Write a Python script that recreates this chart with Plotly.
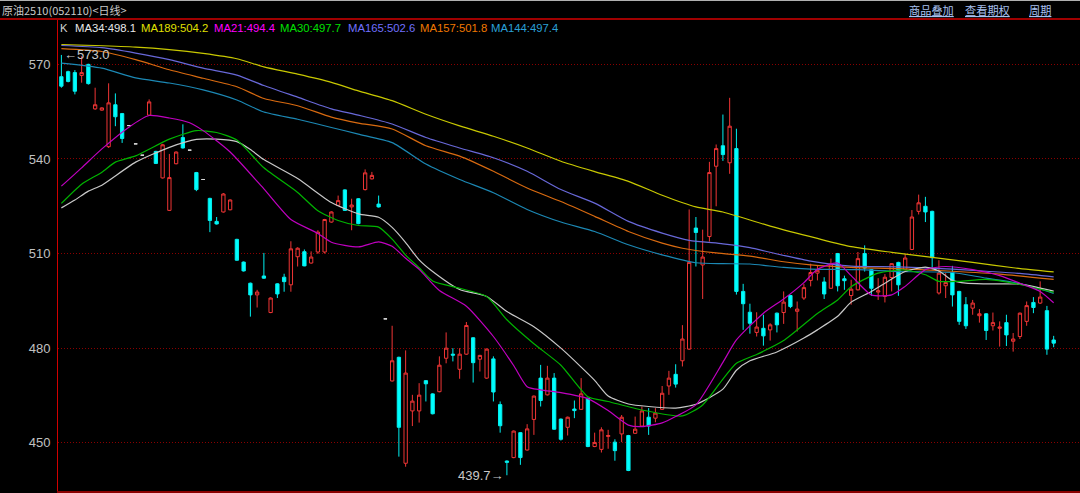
import plotly.graph_objects as go

# ---------------- data ----------------
opens = [566.1, 567.7, 567.4, 566.5, 570.0, 555.9, 555.5, 543.9, 557.2, 554.4,
         550.6, 544.8, 541.2, 553.9, 542.4, 534.0, 523.7, 538.5, 546.8, 542.8,
         535.7, 533.5, 527.5, 520.2, 523.2, 523.9, 514.5, 507.3, 500.6, 496.9,
         502.9, 491.3, 500.4, 502.5, 500.1, 509.0, 510.6, 507.0, 510.5, 510.5,
         520.0, 525.3, 530.2, 524.8, 527.4, 530.3, 533.7, 525.7, 489.3, 469.6,
         477.1, 443.5, 460.1, 460.1, 469.7, 465.5, 466.2, 476.8, 478.1, 473.3,
         478.1, 483.3, 476.5, 470.5, 476.6, 462.1, 444.2, 445.3, 453.2, 447.7,
         457.4, 470.5, 465.2, 470.5, 457.5, 454.9, 460.7, 460.6, 464.1, 448.8,
         447.9, 452.0, 450.2, 452.8, 452.3, 453.0, 455.3, 458.1, 457.8, 460.6,
         468.0, 471.7, 476.0, 479.7, 518.1, 506.4, 515.4, 537.7, 544.2, 538.8,
         543.3, 498.0, 491.4, 485.0, 486.3, 485.8, 491.1, 491.3, 496.7, 491.7,
         495.9, 501.5, 503.8, 501.0, 499.0, 510.0, 502.0, 496.7, 498.5, 510.0,
         504.9, 497.8, 496.4, 502.4, 507.2, 504.9, 511.3, 523.4, 525.0, 523.4,
         497.5, 499.8, 504.0, 498.0, 493.8, 492.7, 490.3, 490.9, 487.1, 486.3,
         488.1, 482.2, 483.7, 488.5, 494.5, 494.3, 491.9, 482.6]
highs = [573.0, 568.0, 568.2, 572.6, 570.2, 562.6, 556.4, 564.0, 560.8, 554.6,
         550.6, 544.8, 541.2, 558.9, 542.6, 544.8, 541.6, 542.4, 551.0, 542.8,
         535.9, 533.5, 527.7, 521.6, 529.2, 527.2, 514.7, 507.5, 500.8, 498.5,
         510.2, 496.1, 500.6, 503.6, 513.9, 512.0, 511.3, 510.7, 517.4, 521.0,
         523.4, 528.4, 530.4, 527.4, 527.6, 536.7, 535.9, 528.4, 489.3, 487.1,
         477.3, 479.3, 465.2, 468.9, 469.9, 465.7, 477.4, 485.0, 480.0, 480.0,
         488.3, 483.5, 477.9, 479.9, 477.4, 463.1, 444.4, 453.9, 453.4, 455.9,
         465.0, 474.7, 474.4, 472.1, 457.7, 458.3, 463.4, 470.5, 464.3, 453.2,
         454.9, 454.1, 451.1, 458.8, 452.5, 458.3, 461.5, 461.0, 461.0, 468.0,
         472.8, 474.9, 487.3, 524.0, 521.6, 517.6, 539.1, 544.6, 554.1, 559.4,
         549.6, 500.4, 494.1, 491.4, 490.6, 487.9, 491.3, 498.0, 496.9, 494.8,
         500.4, 506.8, 506.2, 502.5, 508.4, 510.2, 503.0, 501.7, 510.5, 512.6,
         505.1, 502.2, 503.5, 507.0, 507.4, 509.9, 523.8, 528.7, 528.0, 523.6,
         507.9, 503.8, 506.1, 498.2, 496.2, 495.3, 492.4, 491.1, 491.3, 488.5,
         490.6, 484.8, 491.3, 494.8, 496.2, 501.2, 493.4, 483.9]
lows = [562.6, 564.3, 560.5, 564.2, 563.6, 555.6, 555.3, 543.5, 550.4, 545.1,
        550.6, 544.8, 541.2, 553.7, 538.4, 533.8, 523.5, 538.3, 543.3, 542.8,
        529.8, 533.5, 516.8, 519.2, 523.0, 523.7, 507.7, 504.3, 490.0, 492.9,
        502.0, 491.1, 495.9, 497.9, 497.9, 505.9, 506.0, 506.8, 509.9, 510.0,
        519.8, 525.1, 523.5, 517.4, 519.3, 530.0, 533.5, 524.6, 489.3, 469.4,
        445.6, 442.4, 455.3, 456.4, 463.1, 459.0, 466.0, 475.2, 475.8, 470.3,
        477.9, 469.1, 472.6, 470.3, 463.1, 453.2, 439.7, 445.1, 443.0, 447.5,
        452.5, 461.5, 465.0, 454.1, 450.7, 452.3, 457.8, 460.4, 448.6, 448.6,
        446.9, 448.1, 444.3, 450.2, 441.0, 452.8, 455.1, 452.5, 456.5, 460.4,
        465.2, 467.5, 474.2, 479.5, 505.9, 495.6, 513.8, 525.0, 539.4, 535.3,
        497.0, 485.8, 484.6, 483.7, 480.8, 482.4, 485.0, 487.7, 492.7, 485.3,
        495.3, 499.6, 501.5, 495.6, 498.8, 498.0, 498.5, 493.8, 498.3, 504.3,
        496.6, 495.3, 494.5, 498.0, 496.6, 504.7, 511.1, 522.4, 520.0, 505.0,
        497.0, 495.9, 493.2, 487.4, 486.1, 490.6, 488.1, 482.6, 485.6, 480.5,
        480.7, 478.9, 482.9, 487.1, 491.1, 494.0, 477.9, 480.3]
closes = [563.1, 564.6, 561.5, 567.4, 563.9, 557.2, 556.2, 557.8, 553.4, 546.5,
          550.6, 544.8, 541.2, 558.1, 538.6, 544.5, 534.1, 542.2, 543.5, 542.8,
          530.3, 533.5, 520.5, 519.4, 528.9, 527.0, 507.9, 504.5, 496.9, 497.8,
          502.2, 495.9, 497.2, 501.1, 511.5, 511.7, 506.1, 508.9, 516.8, 520.8,
          523.2, 526.8, 523.7, 525.4, 519.5, 535.6, 534.8, 524.8, 489.3, 476.0,
          454.9, 472.1, 463.2, 465.1, 468.7, 459.2, 474.6, 480.0, 477.8, 478.1,
          487.2, 475.4, 477.7, 479.7, 466.1, 455.4, 443.8, 453.7, 445.3, 454.4,
          464.8, 463.4, 470.5, 454.3, 451.1, 458.1, 460.2, 465.5, 448.8, 450.1,
          454.1, 452.3, 447.5, 458.1, 441.2, 454.3, 460.1, 455.3, 459.4, 465.7,
          470.5, 468.6, 482.9, 507.2, 516.7, 508.9, 535.7, 543.3, 541.4, 550.4,
          498.0, 494.1, 487.9, 486.7, 483.9, 487.4, 487.4, 494.6, 493.2, 492.4,
          499.2, 504.0, 504.7, 497.2, 506.7, 499.8, 501.4, 498.7, 508.4, 505.4,
          499.0, 498.2, 502.5, 506.8, 500.1, 508.6, 521.6, 526.1, 523.2, 508.7,
          503.8, 500.8, 496.9, 488.5, 487.1, 494.3, 490.9, 485.6, 488.1, 486.7,
          484.2, 482.9, 491.1, 493.5, 492.9, 496.2, 479.7, 481.6]
bar_index = list(range(1, len(opens) + 1))

# moving averages: (bar index, value)
ma189_idx = [1, 6, 12, 17, 22, 27, 31, 36, 41, 45, 50, 55, 60, 65, 70, 75, 80, 85, 90, 95, 99, 106, 113, 118, 124, 130, 136, 142, 148]
ma189_val = [576.3, 576.0, 575.5, 574.7, 573.5, 571.8, 569.2, 566.9, 564.3, 561.6, 558.5, 554.2, 550.5, 547.2, 543.5, 539.3, 536.0, 532.9, 528.5, 524.8, 523.2, 518.7, 514.8, 512.2, 510.4, 508.8, 507.2, 505.5, 504.2]
ma165_idx = [1, 7, 12, 17, 22, 27, 31, 36, 41, 45, 50, 55, 60, 65, 70, 75, 80, 85, 90, 94, 99, 103, 108, 112, 118, 125, 133, 138, 143, 148]
ma165_val = [576.0, 575.3, 573.6, 571.5, 568.8, 566.6, 563.3, 559.6, 555.9, 553.9, 551.1, 546.8, 543.5, 540.4, 536.1, 530.3, 526.0, 520.2, 516.5, 514.2, 513.1, 511.9, 509.4, 507.6, 506.0, 505.8, 505.1, 504.4, 503.7, 502.6]
ma157_idx = [1, 7, 12, 17, 22, 27, 31, 36, 41, 45, 50, 55, 60, 65, 70, 75, 80, 85, 90, 93, 98, 103, 108, 112, 118, 125, 133, 140, 148]
ma157_val = [575.0, 574.1, 571.5, 568.3, 565.6, 562.9, 559.2, 556.9, 553.3, 551.4, 549.5, 544.2, 540.9, 536.1, 530.8, 526.5, 521.8, 517.0, 513.3, 511.7, 510.2, 509.2, 507.4, 506.4, 505.6, 505.2, 504.4, 503.5, 501.8]
ma144_idx = [1, 7, 12, 17, 22, 27, 31, 36, 41, 45, 50, 55, 60, 65, 70, 75, 80, 85, 90, 95, 99, 103, 108, 112, 119, 125, 133, 138, 143, 148]
ma144_val = [570.4, 568.8, 565.7, 564.1, 561.9, 558.7, 554.9, 552.6, 550.0, 547.9, 545.2, 538.4, 533.5, 529.3, 524.0, 520.0, 517.0, 512.8, 509.6, 507.1, 506.8, 506.7, 505.6, 505.1, 504.9, 504.3, 504.0, 502.2, 500.5, 497.4]
ma34_idx = [1, 3, 5, 7, 12, 17, 21, 24, 27, 29, 31, 36, 41, 45, 48, 50, 52, 54, 56, 60, 64, 67, 71, 75, 78, 80, 82, 85, 88, 92, 95, 99, 101, 103, 107, 111, 113, 116, 118, 121, 123, 126, 129, 131, 133, 135, 138, 143, 148]
ma34_val = [524.5, 527.0, 529.8, 531.7, 539.0, 543.7, 546.2, 546.3, 545.5, 543.0, 539.8, 533.8, 526.2, 522.6, 521.5, 518.3, 513.5, 508.0, 504.3, 498.6, 496.4, 491.6, 486.8, 480.0, 474.0, 469.8, 464.8, 462.3, 461.5, 461.0, 462.2, 467.0, 473.0, 476.0, 478.8, 483.2, 485.8, 490.1, 494.6, 498.0, 500.6, 504.3, 505.7, 504.5, 501.5, 500.6, 500.4, 500.3, 498.1]
ma30_idx = [1, 4, 7, 9, 12, 17, 21, 24, 27, 31, 36, 39, 42, 45, 48, 50, 52, 54, 56, 60, 64, 67, 71, 75, 79, 82, 87, 93, 96, 99, 101, 104, 108, 113, 116, 118, 122, 126, 129, 131, 134, 138, 143, 148]
ma30_val = [525.9, 532.0, 535.8, 539.0, 541.0, 546.3, 549.0, 548.4, 546.0, 537.2, 529.4, 523.6, 520.5, 518.9, 518.4, 514.6, 509.5, 505.5, 501.3, 499.0, 496.4, 489.0, 481.4, 474.6, 464.6, 463.1, 460.4, 458.5, 462.0, 470.2, 475.2, 478.0, 482.4, 491.0, 495.3, 499.5, 503.8, 504.8, 503.3, 501.2, 501.2, 501.8, 500.2, 497.7]
ma21_idx = [1, 4, 7, 11, 14, 17, 20, 22, 26, 31, 35, 39, 41, 45, 48, 50, 52, 54, 57, 61, 65, 68, 70, 72, 75, 79, 82, 85, 87, 90, 92, 95, 99, 101, 105, 108, 111, 113, 116, 118, 121, 124, 126, 129, 132, 136, 140, 143, 146, 148]
ma21_val = [531.4, 537.2, 543.2, 550.1, 553.8, 553.0, 551.5, 549.0, 542.2, 530.5, 520.8, 516.4, 513.6, 512.1, 513.7, 512.3, 508.5, 505.0, 498.3, 493.3, 483.7, 474.5, 467.8, 466.8, 465.9, 464.0, 460.2, 455.6, 455.1, 456.3, 458.3, 462.0, 475.5, 482.6, 491.1, 495.6, 500.8, 505.0, 507.0, 503.0, 496.9, 496.9, 499.6, 504.9, 505.9, 504.9, 503.0, 500.6, 498.0, 494.4]

legend_items = [("K", "#d0d0d0"), ("MA34:498.1", "#e8e8e8"), ("MA189:504.2", "#e0e000"),
                ("MA21:494.4", "#ff00ff"), ("MA30:497.7", "#00e000"), ("MA165:502.6", "#7070ff"),
                ("MA157:501.8", "#f07800"), ("MA144:497.4", "#2aa0d8")]
legend_px = [58, 73, 139, 212, 278, 346, 418, 489]
y_ticks = [450, 480, 510, 540, 570]
title_text = "原油2510(052110)<日线>"
link_texts = ["商品叠加", "查看期权", "周期"]
link_px = [907, 963, 1027]
high_label = "←573.0"
low_label = "439.7→"

# ---------------- layout helpers ----------------
W, H = 1080, 493
L, R, T, B = 58, 0, 19, 2
PW, PH = W - L - R, H - T - B


def xp(px):
    return (px - L) / PW


def yp(py):
    return (H - B - py) / PH


fig = go.Figure()

up = [i for i in range(len(opens)) if closes[i] > opens[i]]
dn = [i for i in range(len(opens)) if closes[i] < opens[i]]
dj = [i for i in range(len(opens)) if closes[i] == opens[i]]


def sub(arr, ids):
    return [arr[i] for i in ids]


for ids, lc, fc in [(up, "#f03535", "#000000"), (dn, "#00f0f0", "#00ffff"), (dj, "#d8d8d8", "#d8d8d8")]:
    fig.add_trace(go.Candlestick(
        x=sub(bar_index, ids), open=sub(opens, ids), high=sub(highs, ids),
        low=sub(lows, ids), close=sub(closes, ids),
        increasing=dict(line=dict(color=lc, width=1), fillcolor=fc),
        decreasing=dict(line=dict(color=lc, width=1), fillcolor=fc),
        whiskerwidth=0, showlegend=False, hoverinfo="skip"))

ma_specs = [
    (ma189_idx, ma189_val, "#c8c800"),
    (ma165_idx, ma165_val, "#6868d8"),
    (ma157_idx, ma157_val, "#d86a10"),
    (ma144_idx, ma144_val, "#1c88b4"),
    (ma34_idx, ma34_val, "#c8c8c8"),
    (ma30_idx, ma30_val, "#00b400"),
    (ma21_idx, ma21_val, "#c000c0"),
]
for xi, yv, col in ma_specs:
    fig.add_trace(go.Scatter(x=xi, y=yv, mode="lines",
                             line=dict(color=col, width=1.2, shape="spline", smoothing=0.6),
                             showlegend=False, hoverinfo="skip"))

annotations = []
for (txt, col), px in zip(legend_items, legend_px):
    annotations.append(dict(xref="paper", yref="paper", x=xp(px), y=yp(28), text=txt,
                            showarrow=False, xanchor="left", yanchor="middle",
                            font=dict(family="Liberation Sans, Arial", size=11.3, color=col)))
annotations.append(dict(xref="paper", yref="paper", x=xp(0), y=yp(10), text=title_text,
                        showarrow=False, xanchor="left", yanchor="middle",
                        font=dict(family="Noto Sans CJK SC", size=11, color="#c8c8c8")))
for txt, px in zip(link_texts, link_px):
    annotations.append(dict(xref="paper", yref="paper", x=xp(px), y=yp(10), text="<u>" + txt + "</u>",
                            showarrow=False, xanchor="left", yanchor="middle",
                            font=dict(family="Noto Sans CJK SC", size=11.2, color="#a8c0f0")))
annotations.append(dict(x=bar_index[0], y=highs[0], text=high_label, showarrow=False,
                        xanchor="left", yanchor="middle", xshift=1,
                        font=dict(family="Liberation Sans, Arial", size=13, color="#c8c8c8")))
low_i = lows.index(min(lows))
annotations.append(dict(x=bar_index[low_i], y=lows[low_i], text=low_label, showarrow=False,
                        xanchor="right", yanchor="middle", xshift=-1,
                        font=dict(family="Liberation Sans, Arial", size=13, color="#c8c8c8")))

shapes = [
    dict(type="line", xref="paper", yref="paper", x0=xp(0), x1=xp(W), y0=yp(19), y1=yp(19),
         line=dict(color="#a00000", width=2)),
    dict(type="line", xref="paper", yref="paper", x0=xp(0), x1=xp(W), y0=yp(0.5), y1=yp(0.5),
         line=dict(color="#b0b0b0", width=1)),
]

fig.update_layout(
    width=W, height=H, margin=dict(l=L, r=R, t=T, b=B),
    paper_bgcolor="#000000", plot_bgcolor="#000000",
    showlegend=False, hovermode=False,
    annotations=annotations, shapes=shapes,
    xaxis=dict(range=[0.5, 151.9], showgrid=False, zeroline=False, showticklabels=False,
               ticks="", rangeslider=dict(visible=False),
               showline=True, linecolor="#8a0000", linewidth=2),
    yaxis=dict(range=[434.7, 584.4], tickvals=y_ticks, ticktext=[str(v) for v in y_ticks],
               showgrid=True, gridcolor="#8a0000", gridwidth=1, griddash="1px,2px",
               zeroline=False, showline=True, linecolor="#d00000", linewidth=1,
               ticks="", ticklabelstandoff=4,
               tickfont=dict(family="Liberation Sans, Arial", size=13, color="#c0c0c0")),
    boxgap=0.3,
)

fig.write_html("out.html", config={"displayModeBar": False, "staticPlot": True},
               post_script="document.body.style.margin='0';document.body.style.background='#000';")
